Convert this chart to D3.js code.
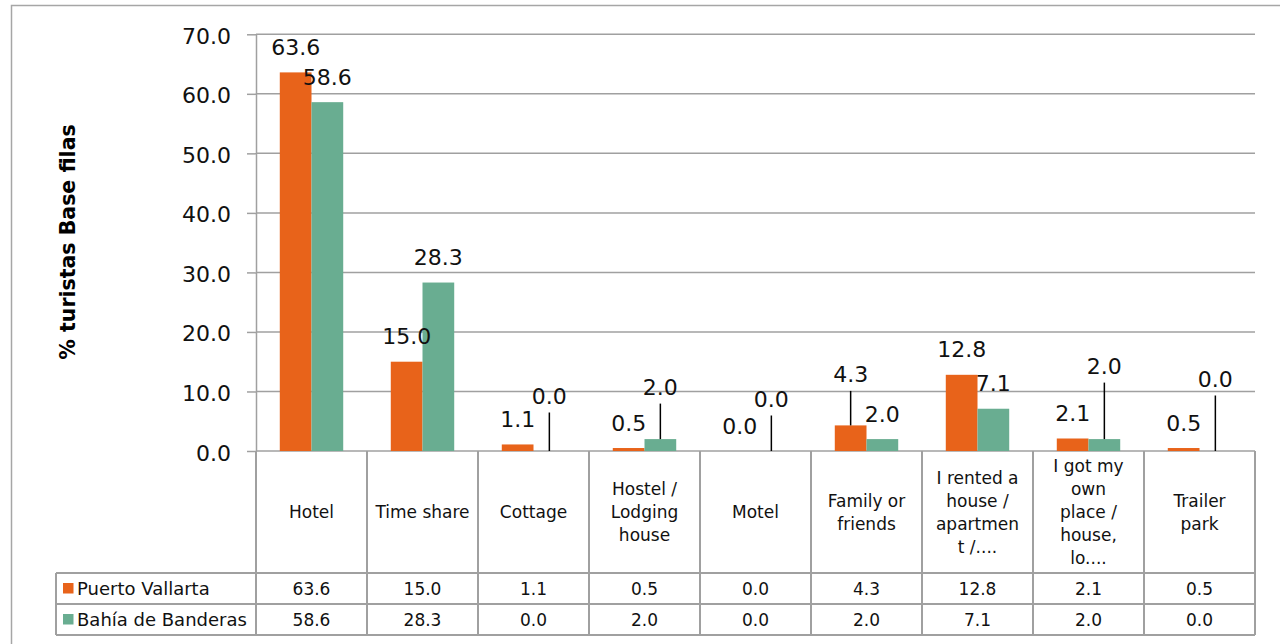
<!DOCTYPE html>
<html>
<head>
<meta charset="utf-8">
<script src="https://cdn.jsdelivr.net/npm/d3@7"></script>
<style>
  body { margin: 0; background: #fff; }
  svg { display: block; font-family: 'DejaVu Sans', sans-serif; }
</style>
</head>
<body>
<svg id="chart" width="1280" height="644"></svg>
<script>
const categories = ['Hotel', 'Time share', 'Cottage', 'Hostel / Lodging house', 'Motel', 'Family or friends',
  'I rented a house / apartment /....', 'I got my own place / house, lo....', 'Trailer park']
// header cells wrap the way the source data table does
const categoryLines = [['Hotel'], ['Time share'], ['Cottage'], ['Hostel /', 'Lodging', 'house'], ['Motel'],
  ['Family or', 'friends'], ['I rented a', 'house /', 'apartmen', 't /....'], ['I got my', 'own', 'place /', 'house,', 'lo....'],
  ['Trailer', 'park']]
const seriesNames = ['Puerto Vallarta', 'Bahía de Banderas']
const puertoVallarta = [63.6, 15.0, 1.1, 0.5, 0.0, 4.3, 12.8, 2.1, 0.5]
const bahiaBanderas = [58.6, 28.3, 0.0, 2.0, 0.0, 2.0, 7.1, 2.0, 0.0]
const yTicks = [0, 10, 20, 30, 40, 50, 60, 70]
const yTitle = '% turistas Base filas'

// labels that were dragged up and tied back to their bar with a leader line (px)
const labelLift = [
  [0, 0, 0, 0, 0, 26, 0, 0, 0],
  [0, 0, 30, 27, 27, 0, 0, 48, 47],
]

const series = [puertoVallarta, bahiaBanderas]
const colors = ['#e8631a', '#69ad91']
const gridColor = '#a0a0a0'
const textColor = '#111'

const plot = {left: 256, right: 1255, top: 34.3, bottom: 451}
const rows = [451, 573, 604, 635]
const tableLeft = 56

const svg = d3.select('#chart')

const x = d3.scaleBand().domain(categories).range([plot.left, plot.right])
const xs = d3.scaleBand().domain(d3.range(series.length)).range([0, x.bandwidth()]).paddingOuter(0.75)
const y = d3.scaleLinear().domain([0, 70]).range([plot.bottom, plot.top])
const fmt = d3.format('.1f')

// outer chart frame (only top and left show in the crop)
svg.append('path')
  .attr('d', 'M11.5,644 V5.5 H1280')
  .attr('fill', 'none')
  .attr('stroke', '#a6a6a6')
  .attr('stroke-width', 1.5)

// gridlines
svg.append('g').selectAll('line')
  .data(yTicks)
  .join('line')
  .attr('x1', plot.left).attr('x2', plot.right)
  .attr('y1', d => y(d)).attr('y2', d => y(d))
  .attr('stroke', gridColor)
  .attr('stroke-width', 1.5)

// y axis
const yAxis = svg.append('g')
  .attr('transform', `translate(${plot.left},0)`)
  .call(d3.axisLeft(y).tickValues(yTicks).tickFormat(fmt).tickSize(9).tickSizeOuter(0).tickPadding(16))
  .attr('font-family', null)
  .attr('font-size', 22)
yAxis.select('.domain').attr('stroke', gridColor).attr('stroke-width', 1.5)
yAxis.selectAll('.tick line').attr('stroke', gridColor).attr('stroke-width', 1.5)
yAxis.selectAll('.tick text').attr('fill', textColor).attr('dy', '0.41em')

svg.append('text')
  .attr('transform', `translate(75,242) rotate(-90)`)
  .attr('text-anchor', 'middle')
  .attr('font-size', 20.5)
  .attr('font-weight', 'bold')
  .attr('fill', '#000')
  .text(yTitle)

// bars
const points = series.flatMap((values, i) => values.map((v, j) => ({
  i, v, cat: categories[j], lift: labelLift[i][j],
  cx: x(categories[j]) + xs(i) + xs.bandwidth() / 2,
})))

svg.append('g').selectAll('rect')
  .data(points)
  .join('rect')
  .attr('x', d => d.cx - xs.bandwidth() / 2)
  .attr('width', xs.bandwidth())
  .attr('y', d => y(d.v))
  .attr('height', d => y(0) - y(d.v))
  .attr('fill', d => colors[d.i])

// data labels + leader lines
const labels = svg.append('g').attr('font-size', 22).attr('fill', textColor).attr('text-anchor', 'middle')
labels.selectAll('text')
  .data(points)
  .join('text')
  .attr('x', d => d.cx)
  .attr('y', d => y(d.v) - 17.5 - d.lift)
  .text(d => fmt(d.v))
labels.selectAll('line')
  .data(points.filter(d => d.lift > 0))
  .join('line')
  .attr('x1', d => d.cx).attr('x2', d => d.cx)
  .attr('y1', d => y(d.v) - 17.5 - d.lift + 9)
  .attr('y2', d => y(d.v))
  .attr('stroke', '#000')
  .attr('stroke-width', 1.5)

// data table under the plot
const table = svg.append('g')
const colEdges = [plot.left, ...categories.map(c => x(c) + x.bandwidth())]
table.selectAll('line.v')
  .data(colEdges)
  .join('line')
  .attr('class', 'v')
  .attr('x1', d => d).attr('x2', d => d)
  .attr('y1', rows[0]).attr('y2', rows[3])
table.append('line')
  .attr('x1', tableLeft).attr('x2', tableLeft)
  .attr('y1', rows[1]).attr('y2', rows[3])
table.selectAll('line.h')
  .data(rows.slice(1))
  .join('line')
  .attr('class', 'h')
  .attr('x1', tableLeft).attr('x2', plot.right)
  .attr('y1', d => d).attr('y2', d => d)
table.selectAll('line').attr('stroke', gridColor).attr('stroke-width', 2)

const headMid = (rows[0] + rows[1]) / 2
const lineH = 23
table.append('g').attr('font-size', 17).attr('fill', textColor).attr('text-anchor', 'middle')
  .selectAll('text')
  .data(categories)
  .join('text')
  .each(function (c, j) {
    const lines = categoryLines[j]
    d3.select(this).selectAll('tspan')
      .data(lines)
      .join('tspan')
      .attr('x', x(c) + x.bandwidth() / 2)
      .attr('y', (d, k) => headMid + (k - (lines.length - 1) / 2) * lineH + 6)
      .text(d => d)
  })

series.forEach((values, i) => {
  const mid = (rows[i + 1] + rows[i + 2]) / 2
  const row = table.append('g').attr('font-size', 17).attr('fill', textColor)
  row.append('rect')
    .attr('x', 63).attr('y', mid - 5.5)
    .attr('width', 10.5).attr('height', 10.5)
    .attr('fill', colors[i])
  row.append('text')
    .attr('x', 77).attr('y', mid + 6)
    .attr('font-size', 18)
    .text(seriesNames[i])
  row.selectAll('text.val')
    .data(values)
    .join('text')
    .attr('class', 'val')
    .attr('text-anchor', 'middle')
    .attr('x', (v, j) => x(categories[j]) + x.bandwidth() / 2)
    .attr('y', mid + 6)
    .text(v => fmt(v))
})
</script>
</body>
</html>
